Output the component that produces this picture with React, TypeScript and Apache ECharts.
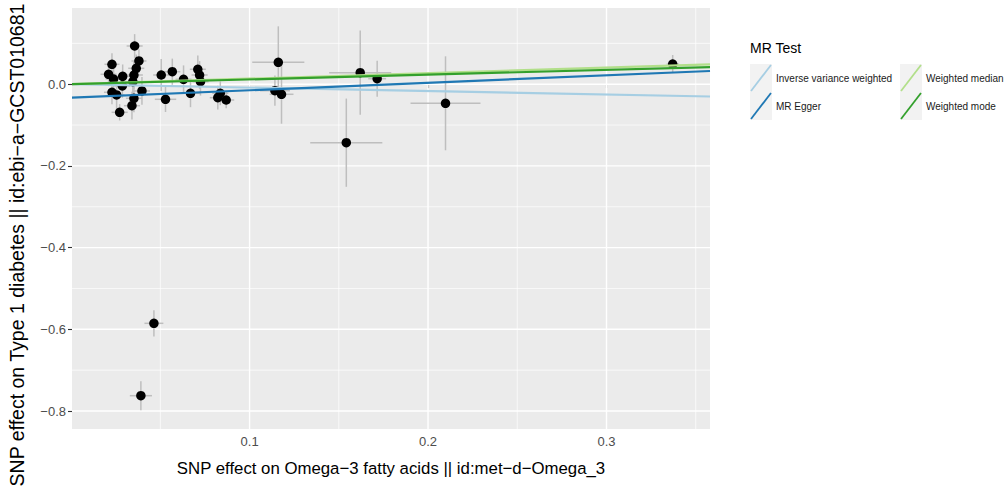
import React, { useEffect, useRef } from "react";
import * as echarts from "echarts";

// SNP effects (exposure = Omega-3, outcome = Type 1 diabetes)
const snpX = [
  0.0356, 0.0229, 0.038, 0.0365, 0.021, 0.0238, 0.0289, 0.0352, 0.0346, 0.0229,
  0.0255, 0.0397, 0.0352, 0.0341, 0.0272, 0.0287, 0.0505, 0.0567, 0.063, 0.071,
  0.072, 0.0725, 0.0529, 0.0669, 0.0836, 0.0822, 0.0869, 0.1161, 0.1142, 0.1179,
  0.162, 0.1715, 0.2098, 0.1542, 0.0464, 0.0391, 0.3371,
];
const snpY = [
  0.0935, 0.0487, 0.0568, 0.0389, 0.0242, 0.0127, 0.0193, 0.0225, 0.0061, -0.0198,
  -0.0264, -0.0166, -0.0345, -0.0526, -0.0688, -0.0044, 0.0225, 0.0306, 0.012, 0.0365,
  0.0225, 0.0061, -0.037, -0.0223, -0.0223, -0.033, -0.0387, 0.0536, -0.0159, -0.0247,
  0.0282, 0.0135, -0.0468, -0.1432, -0.5853, -0.7625, 0.0494,
];
const seX = [
  0.0045, 0.0042, 0.0042, 0.0045, 0.0045, 0.0045, 0.0045, 0.005, 0.0045, 0.0045,
  0.0045, 0.0045, 0.0045, 0.0045, 0.0045, 0.0045, 0.0045, 0.0045, 0.0045, 0.0045,
  0.0045, 0.0045, 0.006, 0.0056, 0.0045, 0.0045, 0.0045, 0.0146, 0.0084, 0.0067,
  0.0174, 0.005, 0.0196, 0.0202, 0.0053, 0.0062, 0.0034,
];
const seY = [
  0.029, 0.027, 0.029, 0.034, 0.029, 0.029, 0.029, 0.034, 0.029, 0.029,
  0.034, 0.034, 0.034, 0.034, 0.02, 0.029, 0.039, 0.032, 0.034, 0.034,
  0.034, 0.034, 0.031, 0.034, 0.029, 0.029, 0.02, 0.088, 0.037, 0.072,
  0.103, 0.044, 0.115, 0.108, 0.032, 0.0355, 0.022,
];

// MR methods: slope / intercept of fitted lines
const methods = ["Inverse variance weighted", "MR Egger", "Weighted median", "Weighted mode"];
const methodColors = ["#A6CEE3", "#1F78B4", "#B2DF8A", "#33A02C"];
const slopes = [-0.084, 0.183, 0.136, 0.117];
const intercepts = [0, -0.0332, 0, 0];

// axis ticks
const xMajor = [0.1, 0.2, 0.3];
const xMinor = [0.05, 0.15, 0.25, 0.35];
const yMajor = [-0.8, -0.6, -0.4, -0.2, 0];
const yMinor = [-0.7, -0.5, -0.3, -0.1, 0.1];

const xMin = 0.0005;
const xMax = 0.358;
const yMin = -0.844;
const yMax = 0.1865;

const FONT = "'Liberation Sans', Arial, Helvetica, sans-serif";
const fmt = (v: number) => v.toFixed(1).replace("-", "\u2212");

export default function App() {
  const ref = useRef<HTMLDivElement>(null);

  useEffect(() => {
    document.body.style.margin = "0";
    if (!ref.current) return;
    const chart = echarts.init(ref.current, undefined, { renderer: "svg" });

    const gridData: number[][] = [];
    xMinor.forEach((v) => gridData.push([v, 0, 0]));
    yMinor.forEach((v) => gridData.push([v, 1, 0]));
    xMajor.forEach((v) => gridData.push([v, 0, 1]));
    yMajor.forEach((v) => gridData.push([v, 1, 1]));

    const errData = snpX.map((x, i) => [x, snpY[i], seX[i], seY[i]]);
    const pts = snpX.map((x, i) => [x, snpY[i]]);

    const lineSeries = methods.map((m, i) => ({
      type: "line",
      name: m,
      data: [
        [xMin, intercepts[i] + slopes[i] * xMin],
        [xMax, intercepts[i] + slopes[i] * xMax],
      ],
      showSymbol: false,
      symbol: "none",
      lineStyle: { color: methodColors[i], width: 2.2, opacity: 1 },
      z: 10 + i,
      silent: true,
    }));

    const legendItems: any[] = [];
    const legendPos = [
      [750, 64, 776],
      [750, 92, 776],
      [900, 64, 926],
      [900, 92, 926],
    ];
    methods.forEach((m, i) => {
      const [kx, ky, tx] = legendPos[i];
      legendItems.push({
        type: "rect",
        shape: { x: kx, y: ky, width: 22, height: 28 },
        style: { fill: "#F2F2F2" },
      });
      legendItems.push({
        type: "line",
        shape: { x1: kx + 1, y1: ky + 27, x2: kx + 21, y2: ky + 1 },
        style: { stroke: methodColors[i], lineWidth: 1.8 },
      });
      legendItems.push({
        type: "text",
        x: tx,
        y: ky + 14.5,
        style: {
          text: m,
          fontFamily: FONT,
          fontSize: 10,
          fill: "#1A1A1A",
          verticalAlign: "middle",
          textAlign: "left",
        },
      });
    });

    chart.setOption({
      animation: false,
      grid: {
        left: 72,
        right: 1007 - 710,
        top: 8,
        bottom: 492 - 429,
        show: true,
        backgroundColor: "#EBEBEB",
        borderWidth: 0,
        containLabel: false,
        outerBoundsMode: "none",
      },
      xAxis: {
        type: "value",
        min: xMin,
        max: xMax,
        axisLine: { show: false },
        splitLine: { show: false },
        axisTick: {
          show: true,
          customValues: xMajor,
          length: 4,
          lineStyle: { color: "#333333", width: 1.1 },
        },
        axisLabel: {
          customValues: xMajor,
          formatter: (v: number) => fmt(v),
          color: "#4D4D4D",
          fontSize: 13,
          fontFamily: FONT,
          margin: 6,
        },
      },
      yAxis: {
        type: "value",
        min: yMin,
        max: yMax,
        axisLine: { show: false },
        splitLine: { show: false },
        axisTick: {
          show: true,
          customValues: yMajor,
          length: 4,
          lineStyle: { color: "#333333", width: 1.1 },
        },
        axisLabel: {
          customValues: yMajor,
          formatter: (v: number) => fmt(v),
          color: "#4D4D4D",
          fontSize: 13,
          fontFamily: FONT,
          margin: 6,
        },
      },
      series: [
        {
          type: "custom",
          silent: true,
          z: 1,
          data: gridData,
          encode: { x: 0 },
          renderItem: (params: any, api: any) => {
            const v = api.value(0);
            const isY = api.value(1) === 1;
            const major = api.value(2) === 1;
            const cs = params.coordSys;
            const lw = major ? 1.4 : 0.7;
            if (isY) {
              const p = api.coord([xMin, v]);
              return {
                type: "line",
                shape: { x1: cs.x, y1: p[1], x2: cs.x + cs.width, y2: p[1] },
                style: { stroke: "#FFFFFF", lineWidth: lw },
              };
            }
            const p = api.coord([v, yMin]);
            return {
              type: "line",
              shape: { x1: p[0], y1: cs.y, x2: p[0], y2: cs.y + cs.height },
              style: { stroke: "#FFFFFF", lineWidth: lw },
            };
          },
        },
        {
          type: "custom",
          silent: true,
          z: 3,
          data: errData,
          encode: { x: 0, y: 1 },
          renderItem: (params: any, api: any) => {
            const x = api.value(0);
            const y = api.value(1);
            const sx = api.value(2);
            const sy = api.value(3);
            const h1 = api.coord([x - sx, y]);
            const h2 = api.coord([x + sx, y]);
            const v1 = api.coord([x, y - sy]);
            const v2 = api.coord([x, y + sy]);
            const st = { stroke: "#BEBEBE", lineWidth: 1.5 };
            return {
              type: "group",
              children: [
                { type: "line", shape: { x1: h1[0], y1: h1[1], x2: h2[0], y2: h2[1] }, style: st },
                { type: "line", shape: { x1: v1[0], y1: v1[1], x2: v2[0], y2: v2[1] }, style: st },
              ],
            };
          },
        },
        {
          type: "scatter",
          data: pts,
          symbol: "circle",
          symbolSize: 9.5,
          itemStyle: { color: "#000000", opacity: 1 },
          z: 5,
          silent: true,
        },
        ...lineSeries,
      ],
      graphic: [
        {
          type: "text",
          x: 391,
          y: 468,
          style: {
            text: "SNP effect on Omega\u22123 fatty acids || id:met\u2212d\u2212Omega_3",
            fontFamily: FONT,
            fontSize: 16.8,
            fill: "#000000",
            textAlign: "center",
            verticalAlign: "middle",
          },
        },
        {
          type: "text",
          x: 17,
          y: 245,
          rotation: Math.PI / 2,
          style: {
            text: "SNP effect on Type 1 diabetes || id:ebi\u2212a\u2212GCST010681",
            fontFamily: FONT,
            fontSize: 19.5,
            fill: "#000000",
            textAlign: "center",
            verticalAlign: "middle",
          },
        },
        {
          type: "text",
          x: 750,
          y: 48,
          style: {
            text: "MR Test",
            fontFamily: FONT,
            fontSize: 14,
            fill: "#000000",
            textAlign: "left",
            verticalAlign: "middle",
          },
        },
        ...legendItems,
      ],
    });

    return () => chart.dispose();
  }, []);

  return <div ref={ref} style={{ width: 1007, height: 492 }} />;
}
